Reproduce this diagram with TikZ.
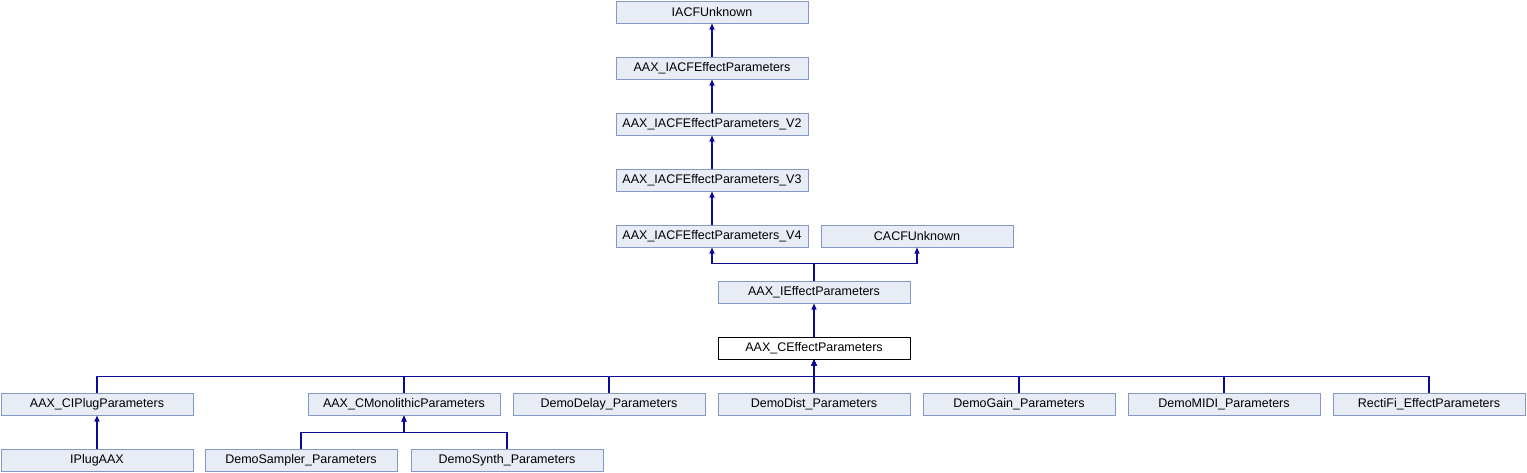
\documentclass[tikz,border=0pt]{standalone}
\usepackage{fontspec}
\setmainfont{Liberation Sans}
\usetikzlibrary{arrows.meta,positioning}
\definecolor{boxfill}{RGB}{232,236,245}
\definecolor{boxline}{RGB}{132,152,200}
\definecolor{edgeblue}{RGB}{10,10,150}

\tikzset{
  cls/.style={draw=boxline, fill=boxfill, line width=1pt, rectangle, minimum width=192pt, minimum height=22pt, inner sep=0pt, font=\fontsize{12.5}{14}\selectfont},
  focus/.style={cls, draw=black, fill=white},
  edge/.style={draw=edgeblue, line width=1.2pt, -{Triangle[length=6pt,width=5pt]}}
}

\begin{document}
\begin{tikzpicture}[x=1pt, y=-1pt, node distance=56pt]
\useasboundingbox (0,0) rectangle (1527,472);
% base interfaces
\node[cls] (iacf) at (712,12) {IACFUnknown};
\node[cls] (effparams) [below of=iacf] {AAX\_IACFEffectParameters};
\node[cls] (effparamsv2) [below of=effparams] {AAX\_IACFEffectParameters\_V2};
\node[cls] (effparamsv3) [below of=effparamsv2] {AAX\_IACFEffectParameters\_V3};
\node[cls] (effparamsv4) [below of=effparamsv3] {AAX\_IACFEffectParameters\_V4};
\node[cls] (cacf) [right of=effparamsv4, node distance=205pt] {CACFUnknown};
\node[cls] (ieffect) [below of=effparamsv4, xshift=102pt] {AAX\_IEffectParameters};
\node[focus] (ceffect) [below of=ieffect] {AAX\_CEffectParameters};
% derived classes
\node[cls] (diststuff) [below of=ceffect] {DemoDist\_Parameters};
\node[cls] (delay) [left of=diststuff, node distance=205pt] {DemoDelay\_Parameters};
\node[cls] (mono) [left of=delay, node distance=205pt] {AAX\_CMonolithicParameters};
\node[cls] (iplugparams) [left of=mono, node distance=307pt] {AAX\_CIPlugParameters};
\node[cls] (gain) [right of=diststuff, node distance=205pt] {DemoGain\_Parameters};
\node[cls] (midi) [right of=gain, node distance=205pt] {DemoMIDI\_Parameters};
\node[cls] (rectifi) [right of=midi, node distance=205pt] {RectiFi\_EffectParameters};
\node[cls] (iplugaax) [below of=iplugparams] {IPlugAAX};
\node[cls] (sampler) [below of=mono, xshift=-103pt] {DemoSampler\_Parameters};
\node[cls] (synth) [below of=mono, xshift=103pt] {DemoSynth\_Parameters};

\draw[edge] (effparams) -- (iacf);
\draw[edge] (effparamsv2) -- (effparams);
\draw[edge] (effparamsv3) -- (effparamsv2);
\draw[edge] (effparamsv4) -- (effparamsv3);
\draw[edge] (ieffect.north) -- ++(0,-17) -| (effparamsv4.south);
\draw[edge] (ieffect.north) -- ++(0,-17) -| (cacf.south);
\draw[edge] (ceffect) -- (ieffect);
\foreach \c in {iplugparams,mono,delay,diststuff,gain,midi,rectifi}
  \draw[edge] (\c.north) -- ++(0,-16) -| (ceffect.south);
\draw[edge] (iplugaax) -- (iplugparams);
\draw[edge] (sampler.north) -- ++(0,-16) -| (mono.south);
\draw[edge] (synth.north) -- ++(0,-16) -| (mono.south);
\end{tikzpicture}
\end{document}
